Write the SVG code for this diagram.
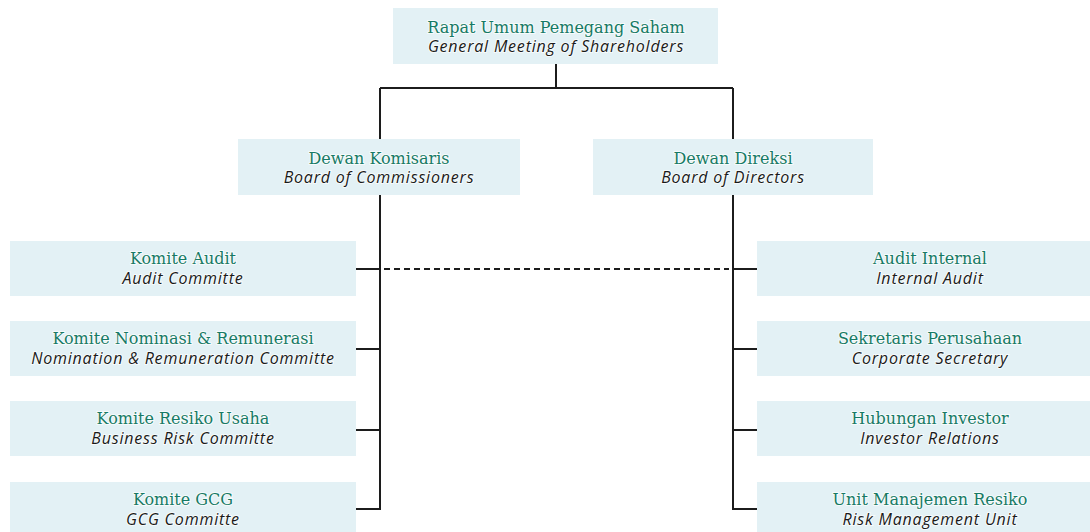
<svg xmlns="http://www.w3.org/2000/svg" width="1090" height="532" viewBox="0 0 1090 532">
  <style>
    .box { fill: #e3f1f5; }
    .t { font-family: "DejaVu Serif", "Liberation Serif", serif; font-size: 16px; fill: #177a65; text-anchor: middle;
         stroke: #ffffff; stroke-width: 2; stroke-opacity: 0.7; paint-order: stroke; }
    .s { font-family: "Open Sans", "Liberation Sans", sans-serif; font-style: italic; font-size: 16px; letter-spacing: 0.8px; fill: #1a1a1a; text-anchor: middle;
         stroke: #ffffff; stroke-width: 2; stroke-opacity: 0.7; paint-order: stroke; }
    .ln { stroke: #1c1c1c; stroke-width: 2; fill: none; }
    .dash { stroke: #1c1c1c; stroke-width: 2; fill: none; stroke-dasharray: 6 4; }
  </style>

  <!-- connectors -->
  <g id="connectors">
    <path class="ln" d="M556 64 V88 M380 88 H733 M380 88 V139 M733 88 V139"/>
    <path class="ln" d="M380 195 V509 H356 M356 269 H380 M356 349 H380 M356 430 H380"/>
    <path class="ln" d="M733 195 V509 H757 M757 269 H733 M757 349 H733 M757 430 H733"/>
    <path class="dash" d="M384 269 H729"/>
  </g>

  <!-- shareholders -->
  <g id="gms">
    <rect class="box" x="393" y="8" width="325" height="56"/>
    <text class="t" x="556" y="33">Rapat Umum Pemegang Saham</text>
    <text class="s" x="556" y="52">General Meeting of Shareholders</text>
  </g>

  <!-- boards -->
  <g id="boc">
    <rect class="box" x="238" y="139" width="282" height="56"/>
    <text class="t" x="379" y="164">Dewan Komisaris</text>
    <text class="s" x="379" y="183">Board of Commissioners</text>
  </g>
  <g id="bod">
    <rect class="box" x="593" y="139" width="280" height="56"/>
    <text class="t" x="733" y="164">Dewan Direksi</text>
    <text class="s" x="733" y="183">Board of Directors</text>
  </g>

  <!-- commissioner committees -->
  <g id="audit-committee">
    <rect class="box" x="10" y="241" width="346" height="55"/>
    <text class="t" x="183" y="264">Komite Audit</text>
    <text class="s" x="183" y="284">Audit Committe</text>
  </g>
  <g id="nomination-committee">
    <rect class="box" x="10" y="321" width="346" height="55"/>
    <text class="t" x="183" y="344">Komite Nominasi &amp; Remunerasi</text>
    <text class="s" x="183" y="364">Nomination &amp; Remuneration Committe</text>
  </g>
  <g id="risk-committee">
    <rect class="box" x="10" y="401" width="346" height="55"/>
    <text class="t" x="183" y="424">Komite Resiko Usaha</text>
    <text class="s" x="183" y="444">Business Risk Committe</text>
  </g>
  <g id="gcg-committee">
    <rect class="box" x="10" y="482" width="346" height="55"/>
    <text class="t" x="183" y="505">Komite GCG</text>
    <text class="s" x="183" y="525">GCG Committe</text>
  </g>

  <!-- director units -->
  <g id="internal-audit">
    <rect class="box" x="757" y="241" width="340" height="55"/>
    <text class="t" x="930" y="264">Audit Internal</text>
    <text class="s" x="930" y="284">Internal Audit</text>
  </g>
  <g id="corporate-secretary">
    <rect class="box" x="757" y="321" width="340" height="55"/>
    <text class="t" x="930" y="344">Sekretaris Perusahaan</text>
    <text class="s" x="930" y="364">Corporate Secretary</text>
  </g>
  <g id="investor-relations">
    <rect class="box" x="757" y="401" width="340" height="55"/>
    <text class="t" x="930" y="424">Hubungan Investor</text>
    <text class="s" x="930" y="444">Investor Relations</text>
  </g>
  <g id="risk-management">
    <rect class="box" x="757" y="482" width="340" height="55"/>
    <text class="t" x="930" y="505">Unit Manajemen Resiko</text>
    <text class="s" x="930" y="525">Risk Management Unit</text>
  </g>
</svg>
